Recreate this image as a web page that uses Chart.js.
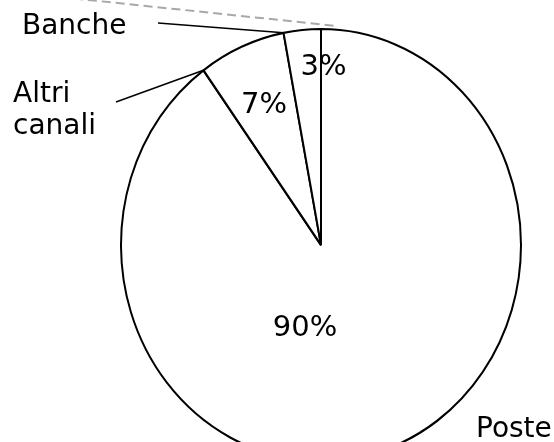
<!DOCTYPE html>
<html>
<head>
<meta charset="utf-8">
<title>Canali</title>
<script src="https://cdn.jsdelivr.net/npm/chart.js@4.4.1/dist/chart.umd.min.js"></script>
<style>
	html, body { margin: 0; padding: 0; background: #fff; overflow: hidden; }
	#wrapper-chart { width: 554px; height: 442px; }
</style>
</head>
<body>
<div id="wrapper-chart"><canvas id="chart-1" width="554" height="442"></canvas></div>
<script>
var categories = ['Poste', 'Altri canali', 'Banche'];
var shares = [90, 7, 3];

var app = (function(){
	var
		fontFamily = '"DejaVu Sans", "Liberation Sans", sans-serif'
		,stretchY = 1.08
		// percent labels: angle shift (deg) from slice middle, radius as share of outer radius
		,pctShift = [28.7, -1.6, 6.3]
		,pctRadius = [0.43, 0.674, 0.787]
		// category labels: text anchor, wrap, leader start
		,catStyle = [
			{ x: 476, y: 437, wrap: false, lead: null },
			{ x: 13, y: 102, wrap: true, lead: [116, 102] },
			{ x: 22, y: 34, wrap: false, lead: [158, 23] }
		]
		,chart;

	function init(){
		_createChart();
	}

	function _toScreen(arc, angle, r){
		return {
			x: arc.x + r * Math.cos(angle),
			y: arc.y + r * Math.sin(angle) * stretchY
		};
	}

	var ellipsePlugin = {
		id: 'ellipse',
		beforeDatasetsDraw: function(c){
			var arc = c.getDatasetMeta(0).data[0];
			c.ctx.save();
			c.ctx.translate(arc.x, arc.y);
			c.ctx.scale(1, stretchY);
			c.ctx.translate(-arc.x, -arc.y);
		},
		afterDatasetsDraw: function(c){
			c.ctx.restore();
		}
	};

	var labelPlugin = {
		id: 'labels',
		afterDraw: function(c){
			var ctx = c.ctx, arcs = c.getDatasetMeta(0).data;
			ctx.save();

			// grey dashed guide running in from the top left
			var top = _toScreen(arcs[0], arcs[0].startAngle, arcs[0].outerRadius);
			ctx.strokeStyle = '#a8a8a8';
			ctx.lineWidth = 2;
			ctx.setLineDash([9, 5]);
			ctx.beginPath();
			ctx.moveTo(60, -3);
			ctx.lineTo(top.x + 16, top.y - 3);
			ctx.stroke();
			ctx.setLineDash([]);

			// percentages inside the slices
			ctx.fillStyle = '#000';
			ctx.font = '29px ' + fontFamily;
			ctx.textAlign = 'center';
			ctx.textBaseline = 'alphabetic';
			arcs.forEach(function(arc, i){
				var mid = (arc.startAngle + arc.endAngle) / 2 + pctShift[i] * Math.PI / 180;
				var p = _toScreen(arc, mid, arc.outerRadius * pctRadius[i]);
				ctx.fillText(shares[i] + '%', p.x, p.y);
			});

			// category names with leader lines
			ctx.font = '28px ' + fontFamily;
			ctx.textAlign = 'left';
			ctx.strokeStyle = '#000';
			ctx.lineWidth = 1.5;
			arcs.forEach(function(arc, i){
				var s = catStyle[i];
				var lines = s.wrap ? categories[i].split(' ') : [categories[i]];
				lines.forEach(function(t, k){
					ctx.fillText(t, s.x, s.y + k * 32);
				});
				if(s.lead){
					var end = _toScreen(arc, arc.startAngle, arc.outerRadius);
					ctx.beginPath();
					ctx.moveTo(s.lead[0], s.lead[1]);
					ctx.lineTo(end.x, end.y);
					ctx.stroke();
				}
			});
			ctx.restore();
		}
	};

	function _createChart(){
		var chartData = {
			labels: categories,
			datasets: [{
				data: shares,
				backgroundColor: '#ffffff',
				borderColor: '#000000',
				borderWidth: 2
			}]
		};
		var ctx = document.getElementById('chart-1');
		chart = new Chart(ctx, {
			type: 'pie',
			data: chartData,
			plugins: [ellipsePlugin, labelPlugin],
			options: {
				responsive: false,
				animation: false,
				events: [],
				radius: 200,
				layout: { padding: { left: 121, right: 33, top: 48, bottom: 0 } },
				plugins: {
					legend: { display: false },
					tooltip: { enabled: false }
				}
			}
		});
	}

	return {
		init: init
	};
})();

app.init();
</script>
</body>
</html>
